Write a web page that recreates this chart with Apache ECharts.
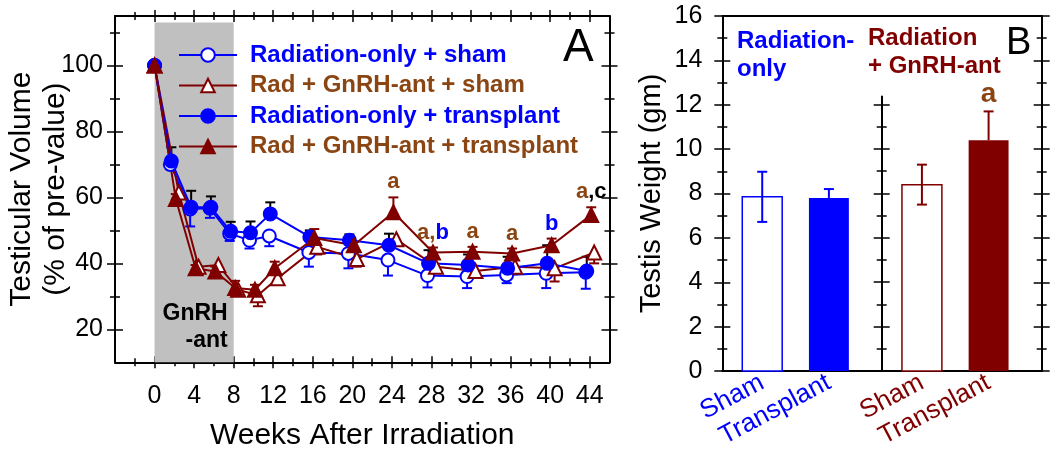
<!DOCTYPE html>
<html><head><meta charset="utf-8">
<script src="https://cdn.jsdelivr.net/npm/echarts@6/dist/echarts.min.js"></script>
<style>html,body{margin:0;padding:0;background:#fff}#c{width:1050px;height:453px}</style>
</head><body><div id="c"></div>
<script>
// ---------------- DATA ----------------
const weeks = [0, 2, 4, 6, 8, 10, 12, 16, 20, 24, 28, 32, 36, 40, 44];
const radShamVal = [100, 70, 56.5, 56.7, 49, 47, 48.3, 43.3, 43, 41, 36.3, 36, 36.5, 37, 37.3];
const radShamErr = [0, 1.5, 5.3, 2.9, 2.2, 2.5, 3.1, 4.3, 4.5, 4.7, 3.6, 3.5, 2.5, 4.5, 5];
const gnShamVal = [100, 61.5, 39, 39.5, 32, 30.3, 35.5, 45, 41.3, 47.3, 39, 37.7, 39, 38.5, 43.3];
const gnShamErr = [0, 1.5, 1, 1.5, 1.5, 3.3, 1.8, 2.3, 2.3, 1.5, 1.8, 1.3, 1, 4, 3.3];
const radTxVal = [100, 71, 57, 57, 49.7, 49.3, 55, 48, 47, 45.5, 40, 39.5, 38.5, 40, 37.7];
const radTxErr = [0, 4.2, 5, 3.3, 2.9, 3.4, 3.5, 2, 1.8, 3.5, 4, 3.2, 3.5, 5.5, 4.3];
const gnTxVal = [100, 59.5, 38.5, 37.5, 32.5, 32, 38.5, 47.7, 45.5, 55.5, 43.3, 43.5, 43, 45.5, 54.7];
const gnTxErr = [0, 1.5, 1, 1.5, 2.2, 1.5, 2, 2.7, 1, 4.5, 1.5, 1.5, 1.5, 2, 2.3];
const seriesNames = ['Radiation-only + sham', 'Rad + GnRH-ant + sham', 'Radiation-only + transplant', 'Rad + GnRH-ant + transplant'];
const annotWeeks = [24, 28, 32, 36, 40, 44];
const annotTexts = ['a', 'a,b', 'a', 'a', 'b', 'a,c'];
const gnrhWeeks = [0, 8];
const gnrhLabel = 'GnRH\n-ant';
const xTicksA = [0, 4, 8, 12, 16, 20, 24, 28, 32, 36, 40, 44];
const xMinorA = [-2, 2, 6, 10, 14, 18, 22, 26, 30, 34, 38, 42];
const yTicksA = [20, 40, 60, 80, 100];
const yMinorA = [30, 50, 70, 90, 110];

const bGroups = ['Radiation-\nonly', 'Radiation\n+ GnRH-ant'];
const bCategories = ['Sham', 'Transplant', 'Sham', 'Transplant'];
const bValues = [7.85, 7.8, 8.4, 10.4];
const bErrUp = [1.13, 0.4, 0.9, 1.3];
const bErrDown = [1.13, 0, 0.9, 0];
const bAnnot = ['', '', '', 'a'];
const yTicksB = [0, 2, 4, 6, 8, 10, 12, 14, 16];
const yMinorB = [1, 3, 5, 7, 9, 11, 13, 15];
const yTicksDiv = [0, 2, 4, 6, 8, 10, 12];
const yMinorDiv = [1, 3, 5, 7, 9, 11];

// ---------------- STYLE / LAYOUT ----------------
const BLUE = '#0000ff', MAROON = '#800000', BROWN = '#8b4513', BLACK = '#000';
const FONT = '"Liberation Sans", Arial, Helvetica, sans-serif';
const B_SLOT = [1, 2.67, 5, 6.67];
const BAND_TOP = 113;
const sty = [
  {sym: 'circle', fill: '#fff', col: BLUE, errCol: BLUE, dir: -1, off: -0.4},
  {sym: 'triangle', fill: '#fff', col: MAROON, errCol: MAROON, dir: -1, off: 0.45},
  {sym: 'circle', fill: BLUE, col: BLUE, errCol: BLACK, dir: 1, off: -0.3},
  {sym: 'triangle', fill: MAROON, col: MAROON, errCol: MAROON, dir: 1, off: 0.15}
];
const vals = [radShamVal, gnShamVal, radTxVal, gnTxVal];
const errs = [radShamErr, gnShamErr, radTxErr, gnTxErr];
const xOf = (w, off) => (w === 0 ? 0 : w + off);

const AXL = {color: BLACK, width: 2};
const TKL = {color: BLACK, width: 1.5};
function axisSet(base, majors, minors, majLen, minLen, main) {
  const out = [];
  out.push(Object.assign({}, base, {
    axisLine: {show: true, onZero: false, lineStyle: AXL},
    axisTick: majors ? {show: true, inside: false, length: majLen, customValues: majors, lineStyle: TKL} : {show: false},
    axisLabel: {show: false}, splitLine: {show: false}
  }, main || {}));
  const tickAx = (vals, len, inside) => Object.assign({}, base, {
    axisLine: {show: false, onZero: false},
    axisTick: {show: true, inside: inside, length: len, customValues: vals, lineStyle: TKL},
    axisLabel: {show: false}, splitLine: {show: false}
  });
  if (majors) out.push(tickAx(majors, majLen, true));
  if (minors) { out.push(tickAx(minors, minLen, false)); out.push(tickAx(minors, minLen, true)); }
  return out;
}

const xA = {type: 'value', gridIndex: 0, min: -4, max: 46};
const yA = {type: 'value', gridIndex: 0, min: 10, max: 115};
const xB = {type: 'value', gridIndex: 1, min: 0, max: 8};
const yB = {type: 'value', gridIndex: 1, min: 0, max: 16};

const xAxes = [].concat(
  axisSet(Object.assign({position: 'bottom'}, xA), xTicksA, xMinorA, 6, 4, {
    axisLabel: {show: true, customValues: xTicksA, fontSize: 25, color: BLACK, margin: 21, fontFamily: FONT},
    name: 'Weeks After Irradiation', nameLocation: 'middle', nameGap: 58,
    nameTextStyle: {fontSize: 30, color: BLACK, fontFamily: FONT}
  }),
  axisSet(Object.assign({position: 'top'}, xA), xTicksA, xMinorA, 6, 4),
  axisSet(Object.assign({position: 'bottom'}, xB), null, null, 0, 0, {
    axisLabel: {show: true, customValues: B_SLOT, rotate: 28, margin: 10, fontFamily: FONT,
      formatter: function (v) {
        const i = B_SLOT.findIndex(s => Math.abs(s - v) < 0.01);
        if (i < 0) return '';
        return (i < 2 ? '{g0|' : '{g1|') + bCategories[i] + '}';
      },
      rich: {g0: {color: BLUE, fontSize: 26, fontFamily: FONT}, g1: {color: MAROON, fontSize: 26, fontFamily: FONT}}
    }
  }),
  axisSet(Object.assign({position: 'top'}, xB), null, null, 0, 0),
  [{type: 'value', gridIndex: 2, min: 0, max: 1, show: false}]
);
const yAxes = [].concat(
  axisSet(Object.assign({position: 'left'}, yA), yTicksA, yMinorA, 8, 5, {
    axisLabel: {show: true, customValues: yTicksA, fontSize: 25, color: BLACK, margin: 12, fontFamily: FONT},
    name: 'Testicular Volume\n(% of pre-value)', nameLocation: 'middle', nameGap: 42, nameMoveOverlap: false,
    nameTextStyle: {fontSize: 30, lineHeight: 34, color: BLACK, fontFamily: FONT}
  }),
  axisSet(Object.assign({position: 'right'}, yA), yTicksA, yMinorA, 8, 5),
  axisSet(Object.assign({position: 'left'}, yB), yTicksB, yMinorB, 8, 5, {
    axisLabel: {show: true, customValues: yTicksB, fontSize: 25, color: BLACK, margin: 20, fontFamily: FONT},
    name: 'Testis Weight (gm)', nameLocation: 'middle', nameGap: 56,
    nameTextStyle: {fontSize: 29, color: BLACK, fontFamily: FONT}
  }),
  axisSet(Object.assign({position: 'right'}, yB), yTicksB, yMinorB, 8, 5),
  axisSet({type: 'value', gridIndex: 2, min: 0, max: 12.36, position: 'left'}, yTicksDiv, yMinorDiv, 8, 5)
);

const series = [];
// GnRH band
series.push({
  type: 'custom', xAxisIndex: 0, yAxisIndex: 0, z: 1, silent: true,
  data: [[gnrhWeeks[0], gnrhWeeks[1]]],
  renderItem: function (p, api) {
    const a = api.coord([api.value(0), BAND_TOP]);
    const b = api.coord([api.value(1), 10]);
    return {type: 'group', children: [
      {type: 'rect', shape: {x: a[0], y: a[1], width: b[0] - a[0], height: b[1] - a[1]}, style: {fill: '#c0c0c0'}},
      {type: 'text', style: {text: gnrhLabel, x: b[0] - 6, y: b[1] - 8, align: 'right', verticalAlign: 'bottom',
        fontSize: 23, lineHeight: 27, fontWeight: 'bold', fill: BLACK, fontFamily: FONT}}
    ]};
  }
});
// Error bars
sty.forEach((s, k) => {
  series.push({
    type: 'custom', xAxisIndex: 0, yAxisIndex: 0, z: 2, silent: true,
    data: weeks.map((w, i) => [xOf(w, s.off), vals[k][i], errs[k][i]]).filter(d => d[2] > 0),
    renderItem: function (p, api) {
      const x = api.value(0), v = api.value(1), e = api.value(2);
      const p0 = api.coord([x, v]), p1 = api.coord([x, v + s.dir * e]);
      return {type: 'group', children: [
        {type: 'line', shape: {x1: p0[0], y1: p0[1], x2: p1[0], y2: p1[1]}, style: {stroke: s.errCol, lineWidth: 2}},
        {type: 'line', shape: {x1: p1[0] - 5, y1: p1[1], x2: p1[0] + 5, y2: p1[1]}, style: {stroke: s.errCol, lineWidth: 2}}
      ]};
    }
  });
});
// Lines
sty.forEach((s, k) => {
  series.push({
    name: seriesNames[k], type: 'line', xAxisIndex: 0, yAxisIndex: 0, z: 3,
    data: weeks.map((w, i) => [xOf(w, s.off), vals[k][i]]),
    symbol: s.sym, symbolSize: s.sym === 'triangle' ? 14 : 13, showSymbol: true,
    lineStyle: {color: s.col, width: 2},
    itemStyle: {color: s.fill, borderColor: s.col, borderWidth: 2},
    emphasis: {disabled: true}
  });
});
// Annotations A
const annotColor = {a: BROWN, b: BLUE, c: BLACK};
series.push({
  type: 'custom', xAxisIndex: 0, yAxisIndex: 0, z: 4, silent: true,
  data: annotWeeks.map((w, i) => {
    const j = weeks.indexOf(w);
    return [xOf(w, sty[3].off), gnTxVal[j] + gnTxErr[j], i];
  }),
  renderItem: function (p, api) {
    const t = annotTexts[api.value(2)];
    const pt = api.coord([api.value(0), api.value(1)]);
    let str = '';
    for (let c = 0; c < t.length; c++) {
      const ch = t[c];
      let key = ch;
      if (ch === ',') key = (t[c + 1] === 'c') ? 'c' : 'a';
      str += '{' + key + '|' + ch + '}';
    }
    return {type: 'text', style: {text: str, x: pt[0], y: pt[1] - 4, align: 'center', verticalAlign: 'bottom',
      rich: {
        a: {fill: annotColor.a, fontSize: 22, fontWeight: 'bold', fontFamily: FONT},
        b: {fill: annotColor.b, fontSize: 22, fontWeight: 'bold', fontFamily: FONT},
        c: {fill: annotColor.c, fontSize: 22, fontWeight: 'bold', fontFamily: FONT}
      }}};
  }
});
// Panel B bars
series.push({
  type: 'custom', xAxisIndex: 8, yAxisIndex: 8, z: 2, silent: true,
  data: bValues.map((v, i) => [B_SLOT[i], v, bErrUp[i], bErrDown[i], i]),
  renderItem: function (p, api) {
    const x = api.value(0), v = api.value(1), eu = api.value(2), ed = api.value(3), i = api.value(4);
    const col = i < 2 ? BLUE : MAROON;
    const filled = i % 2 === 1;
    const w = api.size([1, 0])[0];
    const top = api.coord([x, v]), base = api.coord([x, 0]);
    const ch = [];
    ch.push({type: 'rect', shape: {x: top[0] - w / 2, y: top[1], width: w, height: base[1] - top[1]},
      style: filled ? {fill: col} : {fill: '#fff', stroke: col, lineWidth: 1.5}});
    const pu = api.coord([x, v + eu]), pd = api.coord([x, v - ed]);
    if (eu > 0) {
      ch.push({type: 'line', shape: {x1: top[0], y1: top[1], x2: pu[0], y2: pu[1]}, style: {stroke: col, lineWidth: 2}});
      ch.push({type: 'line', shape: {x1: pu[0] - 5, y1: pu[1], x2: pu[0] + 5, y2: pu[1]}, style: {stroke: col, lineWidth: 2}});
    }
    if (ed > 0) {
      ch.push({type: 'line', shape: {x1: top[0], y1: top[1], x2: pd[0], y2: pd[1]}, style: {stroke: col, lineWidth: 2}});
      ch.push({type: 'line', shape: {x1: pd[0] - 5, y1: pd[1], x2: pd[0] + 5, y2: pd[1]}, style: {stroke: col, lineWidth: 2}});
    }
    if (bAnnot[i]) {
      ch.push({type: 'text', style: {text: bAnnot[i], x: pu[0], y: pu[1] - 3, align: 'center', verticalAlign: 'bottom',
        fill: BROWN, fontSize: 28, fontWeight: 'bold', fontFamily: FONT}});
    }
    return {type: 'group', children: ch};
  }
});

const option = {
  animation: false,
  backgroundColor: '#fff',
  textStyle: {fontFamily: FONT},
  title: [
    {text: 'A', left: 563, top: 25, padding: 0, textStyle: {fontSize: 46, fontWeight: 'normal', color: BLACK, fontFamily: FONT}},
    {text: 'B', left: 1006, top: 25, padding: 0, textStyle: {fontSize: 38, fontWeight: 'normal', color: BLACK, fontFamily: FONT}},
    {text: bGroups[0], left: 737, top: 27, padding: 0, textStyle: {fontSize: 24, lineHeight: 28, fontWeight: 'bold', color: BLUE, fontFamily: FONT}},
    {text: bGroups[1], left: 868, top: 24, padding: 0, textStyle: {fontSize: 24, lineHeight: 28, fontWeight: 'bold', color: MAROON, fontFamily: FONT}}
  ],
  legend: {
    orient: 'vertical', left: 173, top: 38, itemWidth: 58, itemHeight: 17, itemGap: 6.5,
    selectedMode: false,
    textStyle: {fontSize: 24, fontWeight: 'bold', fontFamily: FONT, padding: [0, 0, 0, 8]},
    data: seriesNames.map((n, k) => ({
      name: n,
      itemStyle: {color: sty[k].fill, borderColor: sty[k].col, borderWidth: 2},
      lineStyle: {color: sty[k].col, width: 2},
      textStyle: {color: k % 2 === 0 ? BLUE : BROWN, fontSize: 24, fontWeight: 'bold'}
    }))
  },
  grid: [
    {left: 115, top: 16, right: 440.5, bottom: 90.7, containLabel: false, outerBoundsMode: 'none'},
    {left: 722.3, top: 16, right: 8.3, bottom: 82, containLabel: false, outerBoundsMode: 'none'},
    {left: 881.7, top: 96.6, right: 167.3, bottom: 82, containLabel: false, outerBoundsMode: 'none'}
  ],
  xAxis: xAxes,
  yAxis: yAxes,
  series: series
};
const chart = echarts.init(document.getElementById('c'), null, {renderer: 'canvas'});
chart.setOption(option);
</script></body></html>
